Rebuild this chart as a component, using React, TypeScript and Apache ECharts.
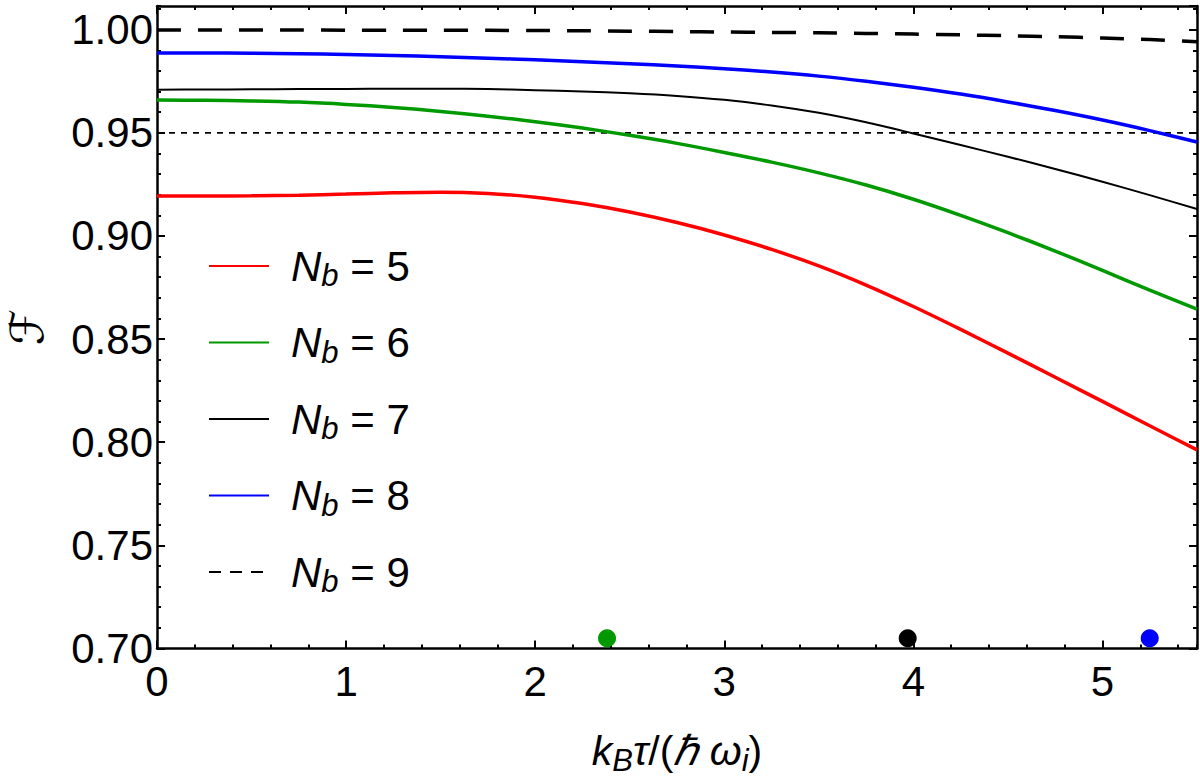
import React, { useEffect, useRef } from "react";
import * as echarts from "echarts";

const xs = [0, 0.25, 0.5, 0.75, 1, 1.25, 1.5, 1.75, 2, 2.25, 2.5, 2.75, 3, 3.25, 3.5, 3.75, 4, 4.25, 4.5, 4.75, 5, 5.25, 5.5];
const nb5 = [0.9194, 0.9194, 0.9195, 0.9198, 0.9203, 0.9209, 0.9212, 0.9206, 0.9188, 0.9157, 0.9116, 0.9065, 0.9005, 0.8935, 0.8855, 0.8762, 0.8658, 0.8547, 0.8432, 0.8315, 0.8198, 0.808, 0.7963];
const nb6 = [0.9659, 0.9658, 0.9655, 0.9649, 0.9638, 0.9623, 0.9604, 0.9581, 0.9554, 0.9523, 0.9488, 0.9449, 0.9405, 0.9358, 0.9306, 0.9247, 0.9178, 0.91, 0.9016, 0.8927, 0.8833, 0.8737, 0.8645];
const nb7 = [0.9709, 0.971, 0.9711, 0.9712, 0.9713, 0.9714, 0.9714, 0.9712, 0.9707, 0.9701, 0.9692, 0.9679, 0.966, 0.9633, 0.9597, 0.9551, 0.9497, 0.9441, 0.9384, 0.9325, 0.9263, 0.9198, 0.9131];
const nb8 = [0.9887, 0.9887, 0.9886, 0.9884, 0.988, 0.9875, 0.9869, 0.9862, 0.9854, 0.9845, 0.9835, 0.9824, 0.9811, 0.9795, 0.9775, 0.975, 0.9721, 0.9688, 0.965, 0.9608, 0.9562, 0.9511, 0.9456];
const nb9 = [0.9999, 0.9999, 0.9999, 0.9999, 0.9998, 0.9998, 0.9997, 0.9997, 0.9996, 0.9995, 0.9993, 0.9991, 0.9989, 0.9987, 0.9985, 0.9982, 0.9979, 0.9975, 0.9971, 0.9966, 0.996, 0.9952, 0.9942];
const seriesNames = ["N_b = 5", "N_b = 6", "N_b = 7", "N_b = 8", "N_b = 9"];
const threshold = 0.95;
const dotXs = [2.38, 3.97, 5.25];
const dotY = 0.705;
const dotColors = ["#009900", "#000000", "#0000ff"];
const xTicks = ["0", "1", "2", "3", "4", "5"];
const yTicks = ["0.70", "0.75", "0.80", "0.85", "0.90", "0.95", "1.00"];

const FONT = "'Liberation Sans', Arial, Helvetica, sans-serif";

export default function App() {
  const ref = useRef<HTMLDivElement>(null);
  useEffect(() => {
    if (!ref.current) return;
    const chart = echarts.init(ref.current, undefined, { renderer: "svg" });
    const pts = (arr: number[]) => xs.map((x, i) => [x, arr[i]]);
    const legendRich = {
      n: { fontFamily: FONT, fontStyle: "italic", fontSize: 42, lineHeight: 50, color: "#000" },
      s: { fontFamily: FONT, fontStyle: "italic", fontSize: 31, lineHeight: 27, verticalAlign: "bottom", color: "#000" },
      t: { fontFamily: FONT, fontSize: 42, lineHeight: 50, color: "#000" },
    };
    const axisLineStyle = { color: "#000", width: 2.5 };
    const xFmt = (v: number) => {
      const r = Math.round(v);
      return Math.abs(v - r) < 1e-6 && xTicks.includes(String(r)) ? String(r) : "";
    };
    const yFmt = (v: number) => {
      const s = v.toFixed(2);
      return Math.abs(v / 0.05 - Math.round(v / 0.05)) < 1e-6 && yTicks.includes(s) ? s : "";
    };
    const baseX = { type: "value", min: 0, max: 5.5, splitLine: { show: false } } as any;
    const baseY = { type: "value", min: 0.7, max: 1.0115, splitLine: { show: false } } as any;
    const lineColors = ["#ff0000", "#009900", "#000000", "#0000ff", "#000000"];
    const lineWidths = [3.5, 3.5, 2, 3.5, 3.5];
    const datas = [nb5, nb6, nb7, nb8, nb9];

    chart.setOption({
      animation: false,
      backgroundColor: "#fff",
      grid: { left: 157, right: 3, top: 6, bottom: 129.5, containLabel: false, outerBoundsMode: "none" },
      legend: {
        orient: "vertical",
        left: 203,
        top: 240,
        itemWidth: 60,
        itemHeight: 14,
        itemGap: 30.5,
        selectedMode: false,
        itemStyle: { opacity: 0 },
        lineStyle: { width: 2 },
        textStyle: { padding: [0, 0, 0, 17], rich: legendRich },
        data: seriesNames.map((n, i) =>
          i === 4 ? { name: n, lineStyle: { width: 2, type: [12, 9] } } : { name: n }
        ),
        formatter: (name: string) => {
          const num = name.split("= ")[1];
          return `{n|N}{s|b}{t| = ${num}}`;
        },
      },
      xAxis: [
        {
          ...baseX,
          position: "bottom",
          interval: 1,
          axisLine: { show: true, onZero: false, lineStyle: axisLineStyle },
          axisTick: { show: true, inside: true, length: 8, lineStyle: { color: "#000", width: 2 } },
          axisLabel: { show: true, fontFamily: FONT, fontSize: 42, color: "#000", margin: 12, showMaxLabel: false, formatter: xFmt },
          name: "{i|k}{s|B}{i|τ}{t|/(}{i|ℏ ω}{s|i}{t|)}",
          nameLocation: "middle",
          nameGap: 77,
          nameTextStyle: {
            rich: {
              i: { fontFamily: FONT, fontStyle: "italic", fontSize: 41, lineHeight: 50, color: "#000" },
              s: { fontFamily: FONT, fontStyle: "italic", fontSize: 31, lineHeight: 26, verticalAlign: "bottom", color: "#000" },
              t: { fontFamily: FONT, fontSize: 41, lineHeight: 50, color: "#000" },
            },
          },
        },
        {
          ...baseX,
          position: "bottom",
          interval: 0.2,
          axisLine: { show: false, onZero: false },
          axisTick: { show: true, inside: true, length: 4, lineStyle: { color: "#000", width: 2 } },
          axisLabel: { show: false },
        },
        {
          ...baseX,
          position: "top",
          interval: 1,
          axisLine: { show: true, onZero: false, lineStyle: axisLineStyle },
          axisTick: { show: true, inside: true, length: 8, lineStyle: { color: "#000", width: 2 } },
          axisLabel: { show: false },
        },
        {
          ...baseX,
          position: "top",
          interval: 0.2,
          axisLine: { show: false, onZero: false },
          axisTick: { show: true, inside: true, length: 4, lineStyle: { color: "#000", width: 2 } },
          axisLabel: { show: false },
        },
      ],
      yAxis: [
        {
          ...baseY,
          position: "left",
          interval: 0.05,
          axisLine: { show: true, onZero: false, lineStyle: axisLineStyle },
          axisTick: { show: true, inside: true, length: 8, lineStyle: { color: "#000", width: 2 } },
          axisLabel: { show: true, fontFamily: FONT, fontSize: 42, color: "#000", margin: 4, showMaxLabel: false, formatter: yFmt },
          name: "ℱ",
          nameLocation: "middle",
          nameRotate: 90,
          nameGap: 107,
          nameTextStyle: { fontFamily: "'DejaVu Serif', 'DejaVu Sans', serif", fontSize: 46, color: "#000" },
        },
        {
          ...baseY,
          position: "left",
          interval: 0.01,
          axisLine: { show: false, onZero: false },
          axisTick: { show: true, inside: true, length: 4, lineStyle: { color: "#000", width: 2 } },
          axisLabel: { show: false },
        },
        {
          ...baseY,
          position: "right",
          interval: 0.05,
          axisLine: { show: true, onZero: false, lineStyle: axisLineStyle },
          axisTick: { show: true, inside: true, length: 8, lineStyle: { color: "#000", width: 2 } },
          axisLabel: { show: false },
        },
        {
          ...baseY,
          position: "right",
          interval: 0.01,
          axisLine: { show: false, onZero: false },
          axisTick: { show: true, inside: true, length: 4, lineStyle: { color: "#000", width: 2 } },
          axisLabel: { show: false },
        },
      ],
      series: [
        {
          name: "threshold",
          type: "line",
          xAxisIndex: 0,
          yAxisIndex: 0,
          symbol: "none",
          silent: true,
          data: [[0, threshold], [5.5, threshold]],
          lineStyle: { color: "#000", width: 1.8, type: [6, 6] },
          z: 1,
        },
        ...datas.map((d, i) => ({
          name: seriesNames[i],
          type: "line",
          xAxisIndex: 0,
          yAxisIndex: 0,
          symbol: "none",
          smooth: 0.3,
          data: pts(d),
          itemStyle: { color: lineColors[i] },
          lineStyle: { color: lineColors[i], width: lineWidths[i], type: i === 4 ? [24, 17] : "solid" },
          z: 2,
        })),
        {
          name: "crossings",
          type: "scatter",
          xAxisIndex: 0,
          yAxisIndex: 0,
          symbol: "circle",
          symbolSize: 18,
          data: dotXs.map((x, i) => ({ value: [x, dotY], itemStyle: { color: dotColors[i], opacity: 1 } })),
          z: 3,
        },
      ],
    } as any);
    return () => chart.dispose();
  }, []);
  return (
    <div
      ref={ref}
      style={{ position: "fixed", left: 0, top: 0, width: "1200px", height: "778px", background: "#fff" }}
    />
  );
}
